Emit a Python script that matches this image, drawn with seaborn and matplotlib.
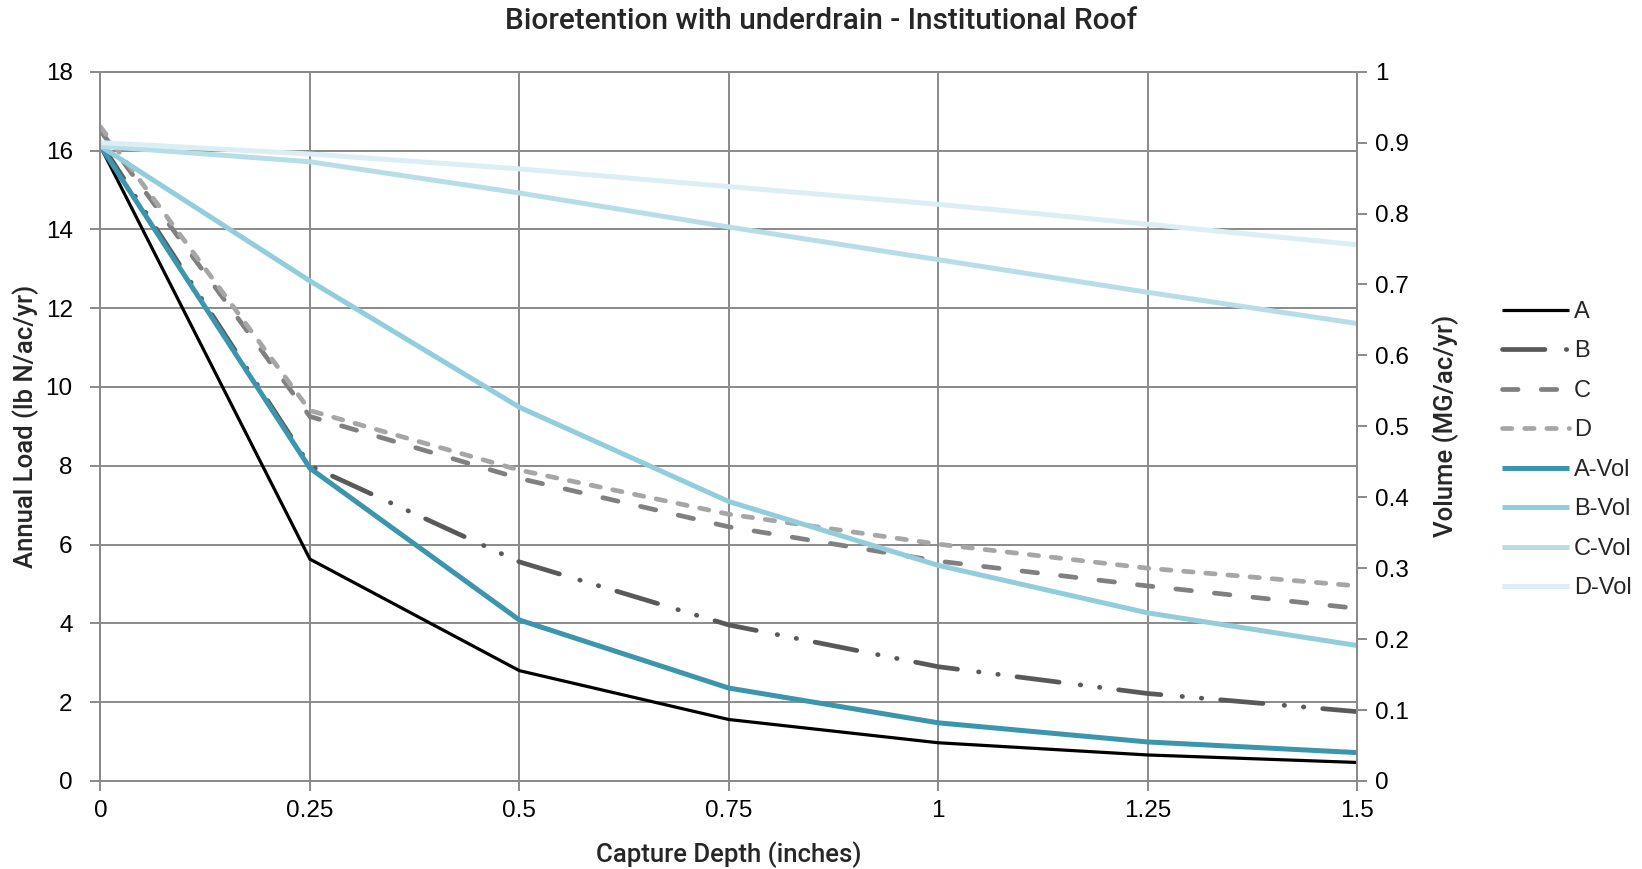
import matplotlib
matplotlib.use("Agg")
import matplotlib.pyplot as plt
import seaborn as sns
import pandas as pd
from matplotlib.ticker import FixedLocator, FuncFormatter

# Capture depth (inches)
depth = [0, 0.25, 0.5, 0.75, 1.0, 1.25, 1.5]

# Annual nitrogen load (lb N/ac/yr) per hydrologic soil group
load_a = [16.1, 5.63, 2.80, 1.56, 0.97, 0.66, 0.47]
load_b = [16.2, 8.00, 5.56, 3.96, 2.90, 2.22, 1.76]
load_c = [16.5, 9.25, 7.68, 6.45, 5.58, 4.95, 4.38]
load_d = [16.6, 9.40, 7.89, 6.77, 6.01, 5.40, 4.95]

# Annual runoff volume (MG/ac/yr) per hydrologic soil group
vol_a = [0.895, 0.441, 0.227, 0.131, 0.082, 0.055, 0.040]
vol_b = [0.895, 0.705, 0.527, 0.394, 0.304, 0.237, 0.191]
vol_c = [0.895, 0.873, 0.829, 0.781, 0.735, 0.689, 0.645]
vol_d = [0.900, 0.884, 0.863, 0.838, 0.813, 0.785, 0.756]

x_ticks = [0, 0.25, 0.5, 0.75, 1, 1.25, 1.5]
x_tick_labels = ["0", "0.25", "0.5", "0.75", "1", "1.25", "1.5"]
left_ticks = [0, 2, 4, 6, 8, 10, 12, 14, 16, 18]
right_ticks = [0, 0.1, 0.2, 0.3, 0.4, 0.5, 0.6, 0.7, 0.8, 0.9, 1.0]

title = "Bioretention with underdrain - Institutional Roof"
xlabel = "Capture Depth (inches)"
ylabel_left = "Annual Load (lb N/ac/yr)"
ylabel_right = "Volume (MG/ac/yr)"

sns.set_theme(style="white")
plt.rcParams["font.family"] = ["Liberation Sans", "DejaVu Sans"]

GRID = "#8a8a8a"
LABEL_FONT = dict(family=["Roboto", "Liberation Sans", "DejaVu Sans"],
                  weight="medium")

load_series = [
    ("A", load_a, "#000000", 2.3, None),
    ("B", load_b, "#595959", 3.4, (9, 4.5, 0.1, 4, 0.1, 4)),
    ("C", load_c, "#808080", 3.4, (3.3, 4.9)),
    ("D", load_d, "#a6a6a6", 3.4, (2.0, 2.7)),
]
vol_series = [
    ("A-Vol", vol_a, "#3b95ad", 3.6),
    ("B-Vol", vol_b, "#92cddc", 3.6),
    ("C-Vol", vol_c, "#b7dee8", 3.6),
    ("D-Vol", vol_d, "#daeef3", 3.6),
]

fig = plt.figure(figsize=(16.42, 8.69), dpi=100)
ax = fig.add_axes([0.0612, 0.1013, 0.7652, 0.8162])
ax2 = ax.twinx()

handles = []
for name, vals, color, lw, dash in load_series:
    df = pd.DataFrame({"depth": depth, "value": vals})
    sns.lineplot(data=df, x="depth", y="value", ax=ax, color=color,
                 linewidth=lw, legend=False)
    line = ax.lines[-1]
    line.set_solid_capstyle("butt")
    line.set_solid_joinstyle("miter")
    if dash is not None:
        line.set_linestyle((0, dash))
        line.set_dash_capstyle("round")
    line.set_label(name)
    handles.append(line)

for name, vals, color, lw in vol_series:
    df = pd.DataFrame({"depth": depth, "value": vals})
    sns.lineplot(data=df, x="depth", y="value", ax=ax2, color=color,
                 linewidth=lw, legend=False)
    line = ax2.lines[-1]
    line.set_solid_capstyle("butt")
    line.set_label(name)
    handles.append(line)

# Axes limits and ticks
ax.set_xlim(0, 1.5)
ax.set_ylim(0, 18)
ax2.set_ylim(0, 1)
ax.xaxis.set_major_locator(FixedLocator(x_ticks))
ax.set_xticklabels(x_tick_labels)
ax.yaxis.set_major_locator(FixedLocator(left_ticks))
ax2.yaxis.set_major_locator(FixedLocator(right_ticks))
ax2.yaxis.set_major_formatter(FuncFormatter(lambda v, p: f"{v:g}"))

ax.grid(True, color=GRID, linewidth=1.4)
ax2.grid(False)
for a in (ax, ax2):
    for side, sp in a.spines.items():
        sp.set_color(GRID)
        sp.set_linewidth(1.4)
ax.tick_params(axis="y", which="major", length=7, width=1.4, color=GRID,
               labelsize=17.5, labelcolor="#000000", direction="out", pad=13,
               left=True)
ax.tick_params(axis="x", which="major", length=7, width=1.4, color=GRID,
               labelsize=17.5, labelcolor="#000000", direction="out", pad=7,
               bottom=True)
ax2.tick_params(axis="y", length=7, width=1.4, color=GRID, labelsize=17.5,
                labelcolor="#000000", direction="out", pad=6, right=True)

ax.set_xlabel(xlabel, fontsize=18.5, labelpad=14, **LABEL_FONT)
ax.set_ylabel(ylabel_left, fontsize=18.5, labelpad=5, **LABEL_FONT)
ax2.set_ylabel(ylabel_right, fontsize=18.5, labelpad=17, **LABEL_FONT)
fig.text(0.5, 0.976, title, ha="center", va="center", fontsize=21.5,
         **LABEL_FONT)

fig.legend(handles=handles, loc="center left", bbox_to_anchor=(0.909, 0.482),
           frameon=False, fontsize=17, handlelength=2.85, handletextpad=0.2,
           labelspacing=0.74, borderaxespad=0)

fig.savefig("out.png", dpi=100, facecolor="white")
